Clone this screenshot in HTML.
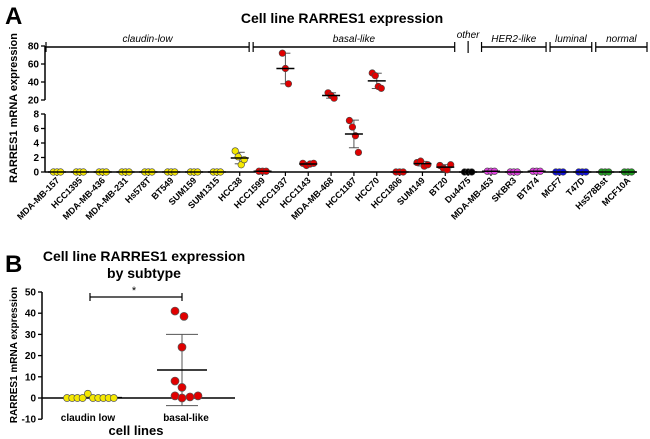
<!DOCTYPE html>
<html><head><meta charset="utf-8"><style>
body{margin:0;background:#fff;}
svg{display:block;font-family:"Liberation Sans",Arial,sans-serif;}
</style></head><body>
<svg id="chart" width="650" height="439" viewBox="0 0 650 439" xmlns="http://www.w3.org/2000/svg">
<g id="A"></g>
<g id="B"></g>
</svg>
<script>
const NS='http://www.w3.org/2000/svg';
// ---- Panel A data ----
const cellLines=['MDA-MB-157','HCC1395','MDA-MB-436','MDA-MB-231','Hs578T','BT549','SUM159','SUM1315','HCC38','HCC1599','HCC1937','HCC1143','MDA-MB-468','HCC1187','HCC70','HCC1806','SUM149','BT20','Du4475','MDA-MB-453','SKBR3','BT474','MCF7','T47D','Hs578Bst','MCF10A'];
const lineGroup=['cl','cl','cl','cl','cl','cl','cl','cl','cl','bl','bl','bl','bl','bl','bl','bl','bl','bl','ot','h2','h2','h2','lu','lu','no','no'];
const replicateValues=[[0,0,0],[0,0,0],[0,0,0],[0,0,0],[0,0,0],[0,0,0],[0,0,0],[0,0,0],[2.9,2.1,1.0,1.7],[0.1,0.1,0.1],[72,55,38],[1.2,0.9,1.1,1.2],[28,25,22],[7.1,6.2,5.0,2.7],[50,47,35,33],[0,0,0],[1.3,1.5,0.8,1.0],[0.9,0.5,0.3,1.0],[0,0,0],[0.1,0.1,0.1],[0,0,0],[0.1,0.1,0.1],[0,0,0],[0,0,0],[0,0,0],[0,0,0]];
const groupNames=['claudin-low','basal-like','other','HER2-like','luminal','normal'];
const groupFirst=[0,9,18,19,22,24];
const groupLast=[8,17,18,21,23,25];
const lowerTicks=[0,2,4,6,8];
const upperTicks=[20,40,60,80];
// ---- Panel B data ----
const subtypes=['claudin low','basal-like'];
const claudinValues=[0,0,0,0,2.0,0,0,0,0,0];
const basalValues=[41,38.5,24,8,5,1,0,0.5,1];
const bTicks=[-10,0,10,20,30,40,50];
const colors={cl:'#f5e800',bl:'#e00000',ot:'#000000',h2:'#e040e0',lu:'#1010e0',no:'#20a020'};

function el(parent,tag,attrs,text){const e=document.createElementNS(NS,tag);for(const k in attrs)e.setAttribute(k,attrs[k]);if(text!==undefined)e.textContent=text;parent.appendChild(e);return e;}
const mean=a=>a.reduce((s,v)=>s+v,0)/a.length;
const sd=a=>{const m=mean(a);return a.length>1?Math.sqrt(a.reduce((s,v)=>s+(v-m)*(v-m),0)/(a.length-1)):0;};

// ===== Panel A =====
const A=document.getElementById('A');
const x0=57,dx=(628-57)/25;
const xA=i=>x0+i*dx;
const yLow=v=>172-v*(58/8);
const yUp=v=>100-(v-20)*(54/60);
const yA=v=>v<=8?yLow(v):yUp(Math.max(v,20));
let t;
t=el(A,'text',{x:5,y:24,'font-size':24,'font-weight':'bold'},'A');

t=el(A,'text',{x:342,y:23,'font-size':14,'font-weight':'bold','text-anchor':'middle'},'Cell line RARRES1 expression');

t=el(A,'text',{x:0,y:0,'font-size':11,'font-weight':'bold','text-anchor':'middle',transform:'translate(17,108) rotate(-90)'},'RARRES1 mRNA expression');

el(A,'line',{x1:45,y1:yLow(8),x2:45,y2:172,stroke:'#000','stroke-width':1.5});
el(A,'line',{x1:45,y1:yUp(80),x2:45,y2:yUp(20),stroke:'#000','stroke-width':1.5});
el(A,'line',{x1:45,y1:172,x2:636,y2:172,stroke:'#000','stroke-width':1.5});
lowerTicks.forEach(v=>{el(A,'line',{x1:41,y1:yLow(v),x2:45,y2:yLow(v),stroke:'#000','stroke-width':1.3});
 const tt=el(A,'text',{x:39,y:yLow(v)+3.5,'font-size':10,'font-weight':'bold','text-anchor':'end'},v);});
upperTicks.forEach(v=>{el(A,'line',{x1:41,y1:yUp(v),x2:45,y2:yUp(v),stroke:'#000','stroke-width':1.3});
 const tt=el(A,'text',{x:39,y:yUp(v)+3.5,'font-size':10,'font-weight':'bold','text-anchor':'end'},v);});
groupNames.forEach((g,gi)=>{
 const a=gi===0?46:xA(groupFirst[gi])-dx/2+2, b=gi===5?647:xA(groupLast[gi])+dx/2-2;
 const grp=el(A,'g',{});
 
 if(g==='other'){el(grp,'line',{x1:(a+b)/2,y1:41,x2:(a+b)/2,y2:53,stroke:'#000','stroke-width':1.2});
  el(grp,'text',{x:(a+b)/2,y:38,'font-size':10,'font-style':'italic','text-anchor':'middle'},g);}
 else{el(grp,'line',{x1:a,y1:47,x2:b,y2:47,stroke:'#000','stroke-width':1.5});
  el(grp,'line',{x1:a,y1:42,x2:a,y2:52,stroke:'#000','stroke-width':1.2});
  el(grp,'line',{x1:b,y1:42,x2:b,y2:52,stroke:'#000','stroke-width':1.2});
  el(grp,'text',{x:(a+b)/2,y:42,'font-size':10,'font-style':'italic','text-anchor':'middle'},g);}
});
cellLines.forEach((name,i)=>{
 const x=xA(i);
 el(A,'line',{x1:x,y1:172,x2:x,y2:176,stroke:'#000','stroke-width':1.2});
 const lab=el(A,'text',{x:0,y:0,'font-size':9,'font-weight':'bold','text-anchor':'end',transform:`translate(${x+3},${181}) rotate(-45)`},name);
 
 const vals=replicateValues[i];const m=mean(vals),s=sd(vals);
 const g=el(A,'g',{});
 
 if(s>0.05){el(g,'line',{x1:x,y1:yA(m+s),x2:x,y2:yA(m-s),stroke:'#555','stroke-width':1});
  el(g,'line',{x1:x-5,y1:yA(m+s),x2:x+5,y2:yA(m+s),stroke:'#555','stroke-width':1});
  el(g,'line',{x1:x-5,y1:yA(m-s),x2:x+5,y2:yA(m-s),stroke:'#555','stroke-width':1});}
 const n=vals.length;
 vals.forEach((v,k)=>{
  const off=(n>1?(k-(n-1)/2)*(s>0.5?3:3.6):0);
  const c=el(g,'circle',{cx:x+off,cy:yA(v),r:3.3,fill:colors[lineGroup[i]],stroke:'#444','stroke-width':0.6});
  
 });
 el(g,'line',{x1:x-9,y1:yA(m),x2:x+9,y2:yA(m),stroke:'#000','stroke-width':1.5});
});

// ===== Panel B =====
const B=document.getElementById('B');
const yB=v=>398-v*2.12;
const xB=[88,186];
t=el(B,'text',{x:5,y:272,'font-size':24,'font-weight':'bold'},'B');

t=el(B,'text',{x:144,y:261,'font-size':14,'font-weight':'bold','text-anchor':'middle'},'Cell line RARRES1 expression');

t=el(B,'text',{x:144,y:278,'font-size':14,'font-weight':'bold','text-anchor':'middle'},'by subtype');
t=el(B,'text',{x:0,y:0,'font-size':10,'font-weight':'bold','text-anchor':'middle',transform:'translate(17,355) rotate(-90)'},'RARRES1 mRNA expression');

el(B,'line',{x1:42,y1:yB(50),x2:42,y2:yB(-10),stroke:'#000','stroke-width':1.5});
el(B,'line',{x1:42,y1:yB(0),x2:235,y2:yB(0),stroke:'#000','stroke-width':1.5});
bTicks.forEach(v=>{el(B,'line',{x1:38,y1:yB(v),x2:42,y2:yB(v),stroke:'#000','stroke-width':1.3});
 const tt=el(B,'text',{x:36,y:yB(v)+3.5,'font-size':10,'font-weight':'bold','text-anchor':'end'},v);});
subtypes.forEach((s,i)=>{const tt=el(B,'text',{x:xB[i],y:421,'font-size':10,'font-weight':'bold','text-anchor':'middle'},s);});
t=el(B,'text',{x:136,y:435,'font-size':13,'font-weight':'bold','text-anchor':'middle'},'cell lines');

t=el(B,'g',{});
el(t,'line',{x1:xB[0]+2,y1:297,x2:xB[1]-4,y2:297,stroke:'#000','stroke-width':1.3});
el(t,'line',{x1:xB[0]+2,y1:293,x2:xB[0]+2,y2:301,stroke:'#000','stroke-width':1.2});
el(t,'line',{x1:xB[1]-4,y1:293,x2:xB[1]-4,y2:301,stroke:'#000','stroke-width':1.2});
el(t,'text',{x:134,y:294,'font-size':11,'text-anchor':'middle'},'*');
const cg=el(B,'g',{});
const cm=mean(claudinValues);
el(cg,'line',{x1:xB[0]-3,y1:yB(cm),x2:xB[0]+34,y2:yB(cm),stroke:'#000','stroke-width':1.3});
claudinValues.forEach((v,k)=>{const c=el(cg,'circle',{cx:xB[0]-21+k*5.2,cy:yB(v),r:3.5,fill:colors.cl,stroke:'#555','stroke-width':0.7});
 });
const bg=el(B,'g',{});
const bm=mean(basalValues),bs=sd(basalValues);
const bx=xB[1]-4;
el(bg,'line',{x1:bx,y1:yB(bm+bs),x2:bx,y2:yB(bm-bs),stroke:'#555','stroke-width':1});
el(bg,'line',{x1:bx-16,y1:yB(bm+bs),x2:bx+16,y2:yB(bm+bs),stroke:'#555','stroke-width':1});
el(bg,'line',{x1:bx-16,y1:yB(bm-bs),x2:bx+16,y2:yB(bm-bs),stroke:'#555','stroke-width':1});
el(bg,'line',{x1:bx-25,y1:yB(bm),x2:bx+25,y2:yB(bm),stroke:'#000','stroke-width':1.5});
const bOff=[-7,2,0,-7,0,-7,0,8,16];
basalValues.forEach((v,k)=>{const c=el(bg,'circle',{cx:bx+bOff[k],cy:yB(v),r:4,fill:colors.bl,stroke:'#555','stroke-width':0.7});
 });
</script>
</body></html>
